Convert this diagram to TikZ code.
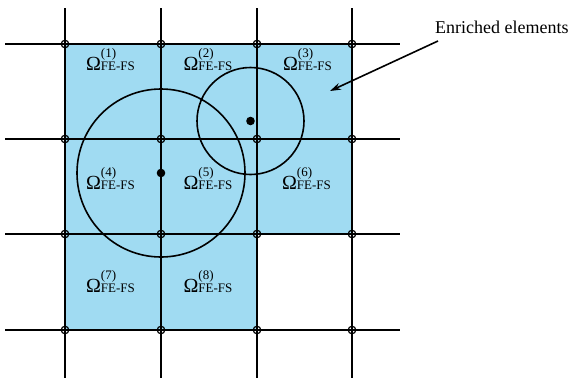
\documentclass[tikz,border=0pt]{standalone}
\usepackage{fontspec}
\setmainfont{Liberation Serif}
\usetikzlibrary{arrows.meta}
\definecolor{enrichblue}{RGB}{160,219,242}
\tikzset{
  meshline/.style={line width=1.9pt},
  support/.style={line width=1.6pt},
  meshpt/.style={circle,draw,line width=1.2pt,inner sep=0pt,minimum size=7.5pt},
  elemlabel/.style={anchor=base,inner sep=0pt},
}
\newcommand{\elem}[1]{{\fontsize{20}{22}\selectfont Ω}\rlap{\raisebox{13pt}{\fontsize{13}{15}\selectfont(#1)}}{\fontsize{13}{15}\selectfont FE-FS}}
\begin{document}
\begin{tikzpicture}[x=1pt,y=-1pt]
  \useasboundingbox (0,0) rectangle (572,378);
  % enriched elements
  \fill[enrichblue] (65,44) rectangle (352,234);
  \fill[enrichblue] (65,234) rectangle (257,330);
  % mesh
  \foreach \x in {65,161,257,352}
    \draw[meshline] (\x,8) -- (\x,378);
  \foreach \y in {44,139,234,330}
    \draw[meshline] (5,\y) -- (400,\y);
  % support domains
  \draw[support] (161,173) circle[radius=84];
  \draw[support] (250.5,121) circle[radius=53.5];
  \fill (161,173) circle[radius=4.3];
  \fill (250.5,121) circle[radius=4.3];
  % nodes
  \foreach \x [count=\i] in {65,161,257,352}
    \foreach \y [count=\j] in {44,139,234,330}
      \node[meshpt] (n\i\j) at (\x,\y) {};
  % element labels
  \node[elemlabel] (e1) at (110.5,70) {\elem{1}};
  \node[elemlabel] (e2) at (208,70) {\elem{2}};
  \node[elemlabel] (e3) at (307.5,70) {\elem{3}};
  \node[elemlabel] (e4) at (110.5,189.5) {\elem{4}};
  \node[elemlabel] (e5) at (208,189.5) {\elem{5}};
  \node[elemlabel] (e6) at (306.5,189.5) {\elem{6}};
  \node[elemlabel] (e7) at (110.5,292) {\elem{7}};
  \node[elemlabel] (e8) at (208,292) {\elem{8}};
  % callout
  \node[anchor=base west,inner sep=0pt,font=\fontsize{18}{22}\selectfont] (enr) at (435,33) {Enriched elements};
  \coordinate (tail) at (438,41);
  \coordinate (tip) at (330,91);
  \draw[support,-{Stealth[length=11pt,width=7pt]}] (tail) -- (tip);
\end{tikzpicture}
\end{document}
